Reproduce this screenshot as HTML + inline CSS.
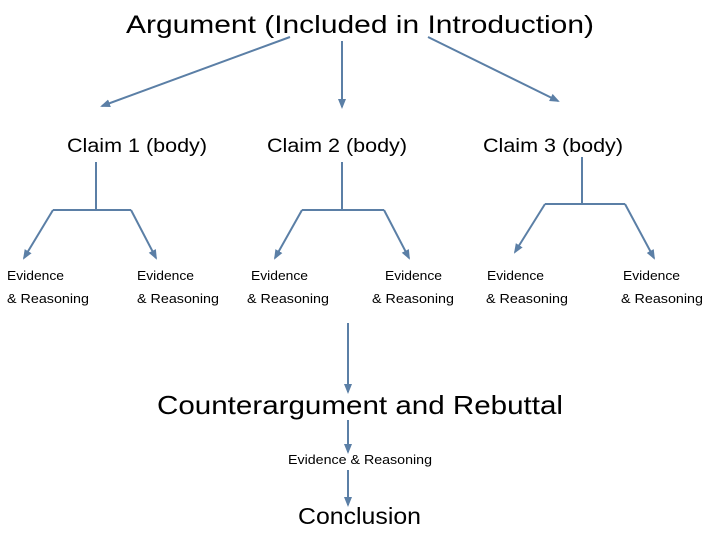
<!DOCTYPE html>
<html><head><style>
html,body{margin:0;padding:0;background:#fff;}
svg{display:block;}
text{font-family:"Liberation Sans",sans-serif;fill:#000;}
</style></head><body>
<svg width="720" height="540" viewBox="0 0 720 540" xmlns="http://www.w3.org/2000/svg">
<defs>
<marker id="a" viewBox="0 0 10 10" refX="8" refY="5" markerWidth="5" markerHeight="5" orient="auto">
<path d="M0,1 L10,5 L0,9 z" fill="#5b7fa6"/></marker>
</defs>
<g stroke="#5b7fa6" stroke-width="2" fill="none">
<line x1="290" y1="37" x2="102" y2="106" marker-end="url(#a)"/>
<line x1="342" y1="41" x2="342" y2="107" marker-end="url(#a)"/>
<line x1="428" y1="37" x2="558" y2="101" marker-end="url(#a)"/>
<line x1="96" y1="162" x2="96" y2="210"/>
<line x1="53" y1="210" x2="131" y2="210"/>
<line x1="53" y1="210" x2="24" y2="258" marker-end="url(#a)"/>
<line x1="131" y1="210" x2="156" y2="258" marker-end="url(#a)"/>
<line x1="342" y1="162" x2="342" y2="210"/>
<line x1="302" y1="210" x2="384" y2="210"/>
<line x1="302" y1="210" x2="275" y2="258" marker-end="url(#a)"/>
<line x1="384" y1="210" x2="409" y2="258" marker-end="url(#a)"/>
<line x1="582" y1="157" x2="582" y2="204"/>
<line x1="545" y1="204" x2="625" y2="204"/>
<line x1="545" y1="204" x2="515" y2="252" marker-end="url(#a)"/>
<line x1="625" y1="204" x2="654" y2="258" marker-end="url(#a)"/>
<line x1="348" y1="323" x2="348" y2="392" marker-end="url(#a)"/>
<line x1="348" y1="420" x2="348" y2="452" marker-end="url(#a)"/>
<line x1="348" y1="470" x2="348" y2="505" marker-end="url(#a)"/>
</g>
<text x="126" y="33" font-size="25" textLength="468" lengthAdjust="spacingAndGlyphs">Argument (Included in Introduction)</text>
<text x="67" y="152" font-size="19" textLength="140" lengthAdjust="spacingAndGlyphs">Claim 1 (body)</text>
<text x="267" y="152" font-size="19" textLength="140" lengthAdjust="spacingAndGlyphs">Claim 2 (body)</text>
<text x="483" y="152" font-size="19" textLength="140" lengthAdjust="spacingAndGlyphs">Claim 3 (body)</text>
<g font-size="13">
<text x="7" y="280" textLength="57" lengthAdjust="spacingAndGlyphs">Evidence</text>
<text x="7" y="303" textLength="82" lengthAdjust="spacingAndGlyphs">&amp; Reasoning</text>
<text x="137" y="280" textLength="57" lengthAdjust="spacingAndGlyphs">Evidence</text>
<text x="137" y="303" textLength="82" lengthAdjust="spacingAndGlyphs">&amp; Reasoning</text>
<text x="251" y="280" textLength="57" lengthAdjust="spacingAndGlyphs">Evidence</text>
<text x="247" y="303" textLength="82" lengthAdjust="spacingAndGlyphs">&amp; Reasoning</text>
<text x="385" y="280" textLength="57" lengthAdjust="spacingAndGlyphs">Evidence</text>
<text x="372" y="303" textLength="82" lengthAdjust="spacingAndGlyphs">&amp; Reasoning</text>
<text x="487" y="280" textLength="57" lengthAdjust="spacingAndGlyphs">Evidence</text>
<text x="486" y="303" textLength="82" lengthAdjust="spacingAndGlyphs">&amp; Reasoning</text>
<text x="623" y="280" textLength="57" lengthAdjust="spacingAndGlyphs">Evidence</text>
<text x="621" y="303" textLength="82" lengthAdjust="spacingAndGlyphs">&amp; Reasoning</text>
</g>
<text x="157" y="414" font-size="26" textLength="406" lengthAdjust="spacingAndGlyphs">Counterargument and Rebuttal</text>
<text x="288" y="464" font-size="12.5" textLength="144" lengthAdjust="spacingAndGlyphs">Evidence &amp; Reasoning</text>
<text x="298" y="524" font-size="23" textLength="123" lengthAdjust="spacingAndGlyphs">Conclusion</text>
</svg>
</body></html>
